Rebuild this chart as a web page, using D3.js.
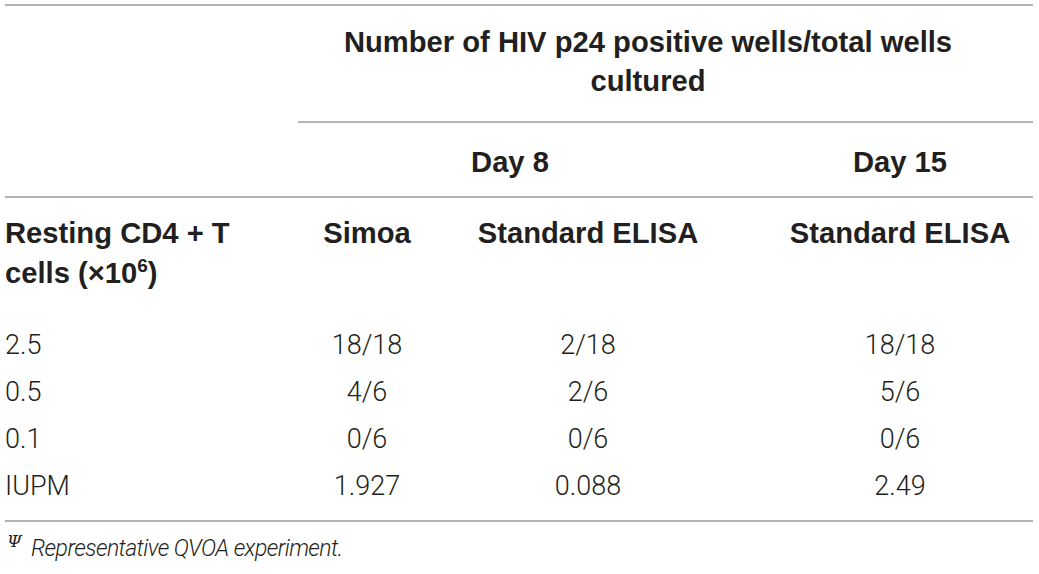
<!DOCTYPE html>
<html>
<head>
<meta charset="utf-8">
<script src="https://cdn.jsdelivr.net/npm/d3@7/dist/d3.min.js"></script>
<style>
  html, body { margin: 0; padding: 0; background: #fff; }
  svg { display: block; }
</style>
</head>
<body>
<svg id="chart" width="1039" height="574"></svg>
<script>
// ---- data ----
const spannerTitle = ["Number of HIV p24 positive wells/total wells", "cultured"];
const dayGroups = ["Day 8", "Day 15"];
const columnHeaders = ["Simoa", "Standard ELISA", "Standard ELISA"];
const rowHeader = ["Resting CD4 + T", "cells (\u00d710", "6", ")"];
const rowLabels = ["2.5", "0.5", "0.1", "IUPM"];
const simoaDay8 = ["18/18", "4/6", "0/6", "1.927"];
const elisaDay8 = ["2/18", "2/6", "0/6", "0.088"];
const elisaDay15 = ["18/18", "5/6", "0/6", "2.49"];
const footnoteSymbol = "\u03a8";
const footnoteText = "Representative QVOA experiment.";

const series = [simoaDay8, elisaDay8, elisaDay15];
const columnKeys = ["simoa8", "elisa8", "elisa15"];

// ---- layout ----
const svg = d3.select("#chart");
const left = 5, right = 1033;
const ink = "#231f20";
const rule = "#9a9a9a";
const boldFont = "'Liberation Sans', Arial, Helvetica, sans-serif";
const lightFont = "Roboto, 'Liberation Sans', sans-serif";
const headSize = 29.2;

// column centers
const xCol = d3.scaleOrdinal().domain(columnKeys).range([367, 588, 900]);
const xDay = d3.scaleOrdinal().domain(dayGroups).range([510, 900]);
// data rows (baselines)
const yRow = d3.scalePoint().domain(rowLabels).range([354, 495]);

// rules
const rules = [
  {x1: left, x2: right, y: 5},
  {x1: 298, x2: right, y: 122},
  {x1: left, x2: right, y: 197},
  {x1: left, x2: right, y: 521}
];
svg.selectAll("line.rule").data(rules).join("line")
  .attr("class", "rule")
  .attr("x1", d => d.x1).attr("x2", d => d.x2)
  .attr("y1", d => d.y).attr("y2", d => d.y)
  .attr("stroke", rule).attr("stroke-width", 1.6);

// spanner title
svg.selectAll("text.spanner").data(spannerTitle).join("text")
  .attr("class", "spanner")
  .attr("x", 648)
  .attr("y", (d, i) => 52 + i * 39)
  .attr("text-anchor", "middle")
  .attr("font-family", boldFont).attr("font-weight", 700)
  .attr("font-size", headSize).attr("fill", ink)
  .text(d => d);

// day groups
svg.selectAll("text.day").data(dayGroups).join("text")
  .attr("class", "day")
  .attr("x", d => xDay(d))
  .attr("y", 172)
  .attr("text-anchor", "middle")
  .attr("font-family", boldFont).attr("font-weight", 700)
  .attr("font-size", headSize).attr("fill", ink)
  .text(d => d);

// column headers
svg.selectAll("text.colhead").data(columnHeaders).join("text")
  .attr("class", "colhead")
  .attr("x", (d, i) => xCol(columnKeys[i]))
  .attr("y", 243)
  .attr("text-anchor", "middle")
  .attr("font-family", boldFont).attr("font-weight", 700)
  .attr("font-size", headSize).attr("fill", ink)
  .text(d => d);

// row header (stub)
const stub = svg.append("g")
  .attr("font-family", boldFont).attr("font-weight", 700)
  .attr("font-size", headSize).attr("fill", ink);
stub.append("text").attr("x", left).attr("y", 243).text(rowHeader[0]);
const t2 = stub.append("text").attr("x", left).attr("y", 283);
t2.append("tspan").text(rowHeader[1]);
t2.append("tspan").attr("dy", -11).attr("font-size", 19).text(rowHeader[2]);
t2.append("tspan").attr("dy", 11).text(rowHeader[3]);

// row labels
svg.selectAll("text.rowlabel").data(rowLabels).join("text")
  .attr("class", "rowlabel")
  .attr("x", left)
  .attr("y", d => yRow(d))
  .attr("font-family", lightFont).attr("font-weight", 300)
  .attr("font-size", 27).attr("fill", ink)
  .text(d => d);

// cells
series.forEach((vals, ci) => {
  svg.selectAll("text.cell-" + columnKeys[ci]).data(vals).join("text")
    .attr("class", "cell-" + columnKeys[ci])
    .attr("x", xCol(columnKeys[ci]))
    .attr("y", (d, i) => yRow(rowLabels[i]))
    .attr("text-anchor", "middle")
    .attr("font-family", lightFont).attr("font-weight", 300)
    .attr("font-size", 27).attr("fill", ink)
    .text(d => d);
});

// footnote
svg.append("text")
  .attr("x", 7).attr("y", 547)
  .attr("font-family", "'DejaVu Serif', serif")
  .attr("font-style", "italic").attr("font-size", 17).attr("fill", ink)
  .text(footnoteSymbol);
svg.append("text")
  .attr("x", 31).attr("y", 556)
  .attr("font-family", lightFont).attr("font-weight", 300)
  .attr("font-style", "italic").attr("font-size", 23).attr("fill", ink)
  .attr("textLength", 312).attr("lengthAdjust", "spacing")
  .text(footnoteText);
</script>
</body>
</html>
